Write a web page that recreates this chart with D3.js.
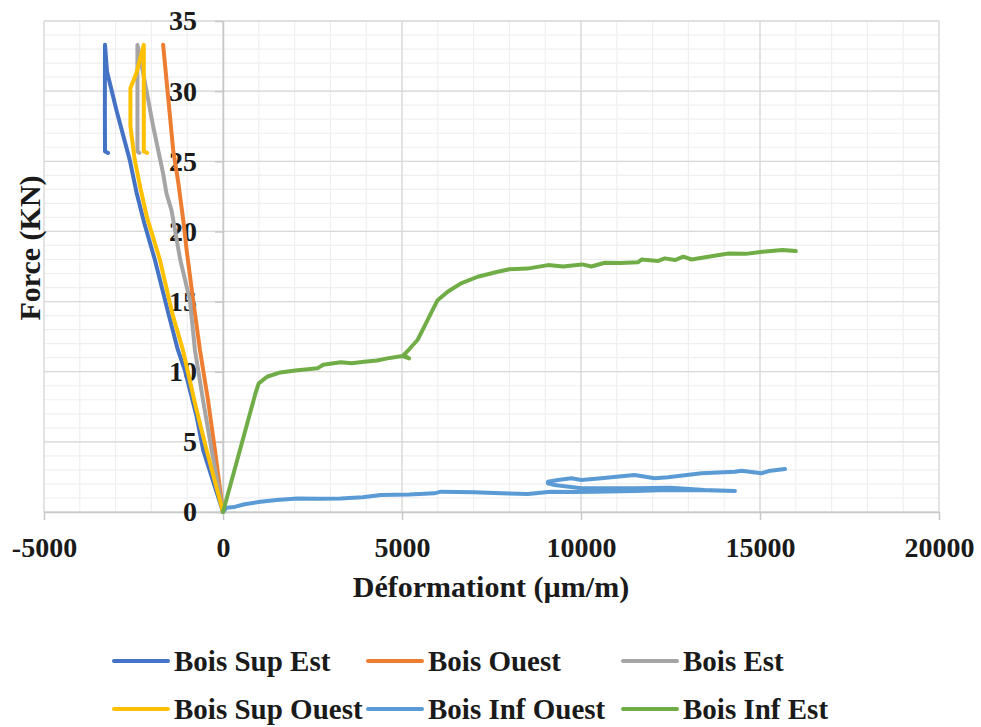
<!DOCTYPE html>
<html><head><meta charset="utf-8">
<script src="https://cdn.jsdelivr.net/npm/d3@7"></script>
<style>
body{margin:0;background:#fff;}
text{font-family:"Liberation Serif","Times New Roman",serif;font-weight:bold;fill:#1a1a1a;}
</style></head>
<body><svg id="c" width="981" height="727"></svg>
<script>
const xTicks = [-5000, 0, 5000, 10000, 15000, 20000];
const yTicks = [0, 5, 10, 15, 20, 25, 30, 35];
const seriesNames = ["Bois Sup Est","Bois Ouest","Bois Est","Bois Sup Ouest","Bois Inf Ouest","Bois Inf Est"];
const seriesColors = ["#4472C4","#ED7D31","#A5A5A5","#FFC000","#5B9BD5","#70AD47"];

const boisSupEst = [[0,0],[-552,4.4],[-737,6.8],[-1064,10.1],[-1260,11.55],[-1500,13.9],[-1905,18],[-2200,20.6],[-2409,22.7],[-2605,25.1],[-2978,28.65],[-3240,31.4],[-3296,33.3],[-3300,29],[-3296,25.7],[-3212,25.6]];
const boisOuest = [[0,0],[-225,4.4],[-420,8],[-644,11.55],[-850,15.4],[-1017,18.7],[-1100,20.6],[-1250,23.5],[-1392,25.8],[-1530,29.5],[-1672,33.3]];
const boisEst = [[0,0],[-318,4.42],[-560,8],[-784,11.55],[-924,15.1],[-1196,18],[-1438,21.5],[-1578,22.7],[-1671,24.1],[-1951,27.5],[-2231,31.3],[-2390,33.3],[-2390,29],[-2390,25.7],[-2335,25.6]];
const boisSupOuest = [[0,0],[-458,4.42],[-760,7.5],[-1120,11.55],[-1400,14],[-1765,18],[-2129,21.05],[-2316,23.2],[-2465,25.1],[-2586,27.5],[-2586,30.2],[-2418,31.3],[-2213,33.3],[-2213,29],[-2213,25.7],[-2120,25.6]];
const boisInfOuest = [[0,0],[100,0.3],[300,0.35],[600,0.55],[1045,0.73],[1500,0.85],[2073,0.97],[2700,0.95],[3286,0.97],[3900,1.05],[4406,1.21],[5200,1.25],[5900,1.33],[6087,1.45],[7020,1.4],[7768,1.33],[8515,1.28],[9160,1.45],[9800,1.42],[10374,1.45],[11500,1.5],[12430,1.57],[13500,1.55],[14300,1.5],[13450,1.57],[12500,1.72],[11490,1.69],[10010,1.69],[9263,1.92],[9076,2.04],[9076,2.16],[9356,2.28],[9729,2.4],[10010,2.28],[10570,2.4],[11490,2.64],[12060,2.4],[12430,2.47],[13370,2.76],[14300,2.87],[14480,2.94],[15040,2.76],[15240,2.92],[15700,3.06]];
const boisInfEst = [[0,0],[300,2.8],[600,5.6],[900,8.4],[997,9.17],[1232,9.64],[1600,9.95],[2073,10.1],[2300,10.15],[2633,10.24],[2800,10.5],[3286,10.67],[3600,10.6],[3940,10.71],[4300,10.8],[4594,10.95],[5014,11.12],[5200,10.95],[5050,11.2],[5200,11.6],[5434,12.26],[5620,13.2],[5807,14.16],[5994,15.1],[6275,15.7],[6648,16.3],[7115,16.77],[7675,17.13],[8000,17.3],[8500,17.35],[9076,17.6],[9500,17.5],[10034,17.65],[10290,17.5],[10663,17.77],[11100,17.75],[11597,17.8],[11690,18.0],[12157,17.9],[12343,18.08],[12623,17.96],[12857,18.2],[13090,18.0],[13557,18.2],[14118,18.43],[14600,18.4],[15070,18.55],[15630,18.67],[16000,18.6]];

const seriesData = [boisSupEst, boisOuest, boisEst, boisSupOuest, boisInfOuest, boisInfEst];

const svg = d3.select("#c");
const x = d3.scaleLinear().domain([-5000,20000]).range([44,939]);
const y = d3.scaleLinear().domain([0,35]).range([512,21]);

// minor grid
const g = svg.append("g");
g.selectAll(".mx").data(d3.range(-5000,20001,1000)).join("line")
  .attr("x1",d=>x(d)).attr("x2",d=>x(d)).attr("y1",y(0)).attr("y2",y(35))
  .attr("stroke","#efefef").attr("stroke-width",1.2);
g.selectAll(".my").data(d3.range(0,36,1)).join("line")
  .attr("y1",d=>y(d)).attr("y2",d=>y(d)).attr("x1",x(-5000)).attr("x2",x(20000))
  .attr("stroke","#efefef").attr("stroke-width",1.2);
// major grid
g.selectAll(".Mx").data(xTicks).join("line")
  .attr("x1",d=>x(d)).attr("x2",d=>x(d)).attr("y1",y(0)).attr("y2",y(35))
  .attr("stroke","#d9d9d9").attr("stroke-width",1.3);
g.selectAll(".My").data(yTicks).join("line")
  .attr("y1",d=>y(d)).attr("y2",d=>y(d)).attr("x1",x(-5000)).attr("x2",x(20000))
  .attr("stroke","#d9d9d9").attr("stroke-width",1.3);

// axes
const xAxis = svg.append("g").attr("transform",`translate(0,${y(0)})`)
  .call(d3.axisBottom(x).tickValues(xTicks).tickSize(8).tickPadding(17).tickSizeOuter(0).tickFormat(d=>String(d)));
const yAxis = svg.append("g").attr("transform",`translate(${x(0)},0)`)
  .call(d3.axisLeft(y).tickValues(yTicks).tickSize(8).tickPadding(18).tickSizeOuter(0).tickFormat(d=>String(d)));
[xAxis,yAxis].forEach(a=>{
  a.select(".domain").attr("stroke","#c8c8c8").attr("stroke-width",1.5);
  a.selectAll(".tick line").attr("stroke","#c8c8c8").attr("stroke-width",1.5);
  a.selectAll(".tick text").attr("font-size",28).attr("font-family","Liberation Serif, Times New Roman, serif").attr("font-weight","bold").attr("fill","#1a1a1a");
});

// lines
const line = d3.line().x(d=>x(d[0])).y(d=>y(d[1]));
seriesData.forEach((data,i)=>{
  svg.append("path").datum(data).attr("d",line)
    .attr("fill","none").attr("stroke",seriesColors[i]).attr("stroke-width",4)
    .attr("stroke-linejoin","round").attr("stroke-linecap","round");
});

// titles
svg.append("text").attr("x",491).attr("y",597).attr("text-anchor","middle").attr("font-size",30).text("Déformationt (µm/m)");
svg.append("text").attr("transform","translate(40,248) rotate(-90)").attr("text-anchor","middle").attr("font-size",30).text("Force (KN)");

// legend
const legX = [114,368,623];
const legY = [661,709];
seriesNames.forEach((n,i)=>{
  const col = i%3, row = Math.floor(i/3);
  const lg = svg.append("g").attr("transform",`translate(${legX[col]},${legY[row]})`);
  lg.append("line").attr("x1",0).attr("x2",54).attr("y1",0).attr("y2",0)
    .attr("stroke",seriesColors[i]).attr("stroke-width",4).attr("stroke-linecap","round");
  lg.append("text").attr("x",60).attr("y",10).attr("font-size",29).text(n);
});
</script></body></html>
